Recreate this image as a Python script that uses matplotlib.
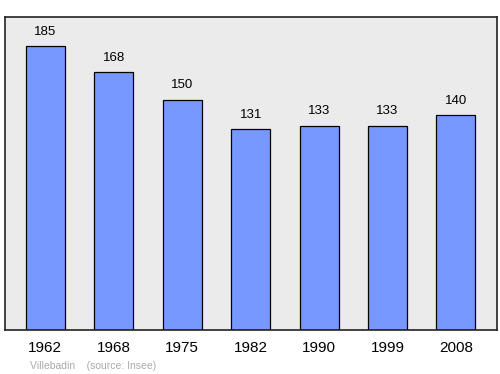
import matplotlib.pyplot as plt

plt.rcParams['font.family'] = ['Liberation Sans', 'DejaVu Sans']

# Population data
annees = ['1962', '1968', '1975', '1982', '1990', '1999', '2008']
population = [185, 168, 150, 131, 133, 133, 140]

fig = plt.figure(figsize=(5, 3.74), dpi=100)
ax = fig.add_axes([5 / 500, 1 - 330 / 374, 492 / 500, 313 / 374])
ax.set_facecolor('#ebebeb')

x = range(len(annees))
ax.bar(x, population, width=0.57, color='#7799ff', edgecolor='black', linewidth=0.9, zorder=2)
for i, v in zip(x, population):
    ax.text(i, v + 5.5, str(v), ha='center', va='bottom', fontsize=9.5, color='black')

ax.set_xlim(-0.59, 6.6)
ax.set_ylim(0, 204)
ax.set_yticks([])
ax.set_xticks(list(x))
ax.set_xticklabels(annees, fontsize=11)
ax.tick_params(axis='x', length=0, pad=8)
for s in ax.spines.values():
    s.set_linewidth(1.2)
    s.set_color('#222222')

fig.text(30 / 500, 1 - 366 / 374, 'Villebadin    (source: Insee)', fontsize=7.5, color='#aaaaaa', ha='left', va='center')

fig.savefig('out.png', dpi=100)
